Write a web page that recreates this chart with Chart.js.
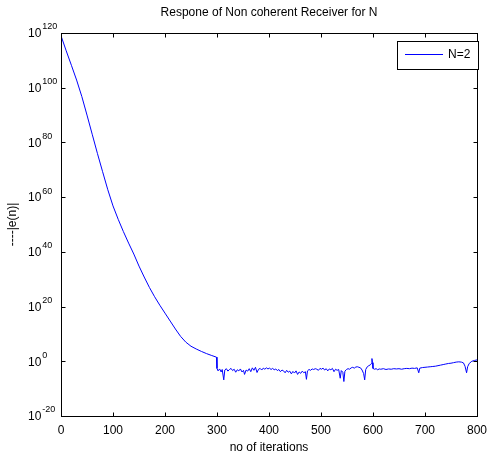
<!DOCTYPE html>
<html>
<head>
<meta charset="utf-8">
<script src="https://cdn.jsdelivr.net/npm/chart.js@4"></script>
<style>
  body { margin: 0; background: #fff; }
  canvas { display: block; }
</style>
</head>
<body>
<canvas id="errChart" width="494" height="456"></canvas>
<script>
// decay phase (iteration, log10 |e(n)|)
const decayIter = [0, 10, 20, 30, 40, 50, 60, 70, 80, 90,
  100, 110, 120, 130, 140, 150, 160, 170, 180, 190,
  200, 210, 220, 230, 240, 250, 260, 270, 280, 290, 299];
const decayLog = [119, 113.5, 108.2, 102.8, 96.8, 90, 83, 76, 69.3, 62.7,
  56.8, 51.9, 47.4, 43.2, 39.2, 34.8, 30.8, 27, 23.6, 20.5,
  17.6, 14.7, 11.8, 9.1, 7.0, 5.5, 4.5, 3.6, 2.8, 2.1, 1.5];

// noise floor after iteration 300
const floorIter = [
  300, 302, 305, 308, 310, 313, 315, 318, 321, 324,
  327, 330, 333, 336, 339, 342, 345, 348, 351, 353,
  356, 359, 362, 365, 368, 371, 374, 377, 380, 383,
  386, 389, 392, 395, 398, 401, 404, 407, 410, 413,
  416, 419, 422, 425, 428, 431, 434, 437, 440, 443,
  446, 449, 452, 455, 458, 461, 464, 467, 470, 472,
  474, 477, 480, 483, 486, 489, 492, 495, 498, 501,
  504, 507, 510, 513, 516, 519, 522, 525, 528, 531,
  534, 537, 539, 542, 544, 546, 549, 552, 555, 558,
  561, 564, 567, 570, 573, 576, 579, 582, 584, 586,
  589, 592, 595, 597, 598, 599, 600, 603, 606, 609,
  612, 615, 620, 625, 630, 635, 640, 645, 650, 655,
  660, 665, 670, 675, 680, 685, 688, 690, 695, 700,
  705, 710, 715, 720, 725, 730, 735, 740, 745, 750,
  755, 760, 765, 770, 774, 777, 780, 782, 785, 790,
  795, 800];
const floorLog = [
  -2.6, -3.5, -2.8, -3.9, -3.0, -6.8, -3.2, -2.7, -3.6, -3.0,
  -2.6, -3.4, -2.9, -4.0, -3.1, -3.5, -2.8, -3.9, -3.3, -4.8,
  -3.2, -3.6, -2.7, -3.8, -2.4, -3.3, -2.2, -4.1, -2.9, -2.6,
  -3.2, -2.5, -2.9, -2.4, -2.8, -2.5, -3.0, -2.6, -3.1, -2.8,
  -3.4, -3.0, -3.8, -3.2, -3.5, -4.2, -3.3, -4.0, -3.6, -4.6,
  -3.7, -4.3, -3.5, -4.8, -3.9, -4.4, -3.6, -4.2, -3.8, -6.6,
  -3.5, -3.0, -3.3, -2.8, -3.0, -2.7, -2.9, -3.3, -2.6, -2.9,
  -2.5, -3.2, -2.7, -3.5, -2.8, -3.1, -2.6, -3.8, -2.9, -3.3,
  -3.0, -6.2, -3.4, -4.0, -7.4, -3.6, -3.0, -2.7, -2.9, -2.4,
  -2.2, -2.5, -2.1, -2.0, -2.2, -2.4, -3.2, -4.5, -6.8, -3.0,
  -2.0, -1.6, -1.3, -0.8, 1.0, -0.5, -2.6, -2.9, -2.7, -3.1,
  -2.8, -2.9, -2.7, -3.0, -2.8, -2.9, -2.7, -2.8, -2.7, -2.9,
  -2.7, -2.6, -2.7, -2.5, -2.6, -2.4, -4.2, -2.5, -2.3, -2.2,
  -2.1, -2.0, -1.9, -1.8, -1.6, -1.4, -1.2, -1.0, -0.8, -0.7,
  -0.5, -0.3, -0.2, -0.3, -0.6, -1.8, -4.2, -2.0, -0.8, 0.0,
  0.3, 0.5];

const xTicks = [0, 100, 200, 300, 400, 500, 600, 700, 800];
const yTickExps = [-20, 0, 20, 40, 60, 80, 100, 120];

const FONT = "Arial, 'Liberation Sans', sans-serif";

const iterAll = decayIter.concat(floorIter);
const logAll = decayLog.concat(floorLog);
const points = iterAll.map((n, i) => ({ x: n, y: Math.pow(10, logAll[i]) }));

// MATLAB style box, inward ticks, 10^k labels, title and legend
const matlabAxes = {
  id: "matlabAxes",
  afterDraw(chart) {
    const { ctx, chartArea: a, scales } = chart;
    const xs = scales.x, ys = scales.y;
    const L = Math.round(a.left) + 0.5, R = Math.round(a.right) + 0.5;
    const T = Math.round(a.top) + 0.5, B = Math.round(a.bottom) + 0.5;
    ctx.save();
    ctx.strokeStyle = "#000";
    ctx.lineWidth = 1;
    ctx.strokeRect(L, T, R - L, B - T);

    ctx.beginPath();
    xTicks.forEach((v) => {
      const px = Math.round(xs.getPixelForValue(v)) + 0.5;
      ctx.moveTo(px, B); ctx.lineTo(px, B - 4);
      ctx.moveTo(px, T); ctx.lineTo(px, T + 4);
    });
    yTickExps.forEach((e) => {
      const py = Math.round(ys.getPixelForValue(Math.pow(10, e))) + 0.5;
      ctx.moveTo(L, py); ctx.lineTo(L + 4, py);
      ctx.moveTo(R, py); ctx.lineTo(R - 4, py);
    });
    ctx.stroke();

    // y tick labels: 10 with raised exponent
    ctx.fillStyle = "#000";
    ctx.textBaseline = "middle";
    ctx.textAlign = "left";
    yTickExps.forEach((e) => {
      const py = ys.getPixelForValue(Math.pow(10, e));
      ctx.font = "12px " + FONT;
      ctx.fillText("10", 28, py + 1);
      const w = ctx.measureText("10").width;
      ctx.font = "9px " + FONT;
      ctx.fillText(String(e), 28 + w + 1, py - 6);
    });

    // title
    ctx.font = "12px " + FONT;
    ctx.textAlign = "center";
    ctx.fillText("Respone of Non coherent Receiver for N", (a.left + a.right) / 2, 13);

    // legend
    const lx = 397.5, ly = 41.5, lw = 81, lh = 28;
    ctx.fillStyle = "#fff";
    ctx.fillRect(lx, ly, lw, lh);
    ctx.strokeStyle = "#000";
    ctx.strokeRect(lx, ly, lw, lh);
    ctx.strokeStyle = "#0000ff";
    ctx.beginPath();
    ctx.moveTo(405, 54.5); ctx.lineTo(443, 54.5);
    ctx.stroke();
    ctx.fillStyle = "#000";
    ctx.textAlign = "left";
    ctx.fillText(chart.data.datasets[0].label, 448, 55);
    ctx.restore();
  },
};

new Chart(document.getElementById("errChart").getContext("2d"), {
  type: "line",
  data: {
    datasets: [
      {
        label: "N=2",
        data: points,
        borderColor: "#0000ff",
        borderWidth: 1,
        pointRadius: 0,
        tension: 0,
        fill: false,
      },
    ],
  },
  options: {
    responsive: false,
    animation: false,
    devicePixelRatio: 1,
    layout: { padding: { top: 33, right: 12, left: 0, bottom: 0 } },
    plugins: {
      legend: { display: false },
      title: { display: false },
      tooltip: { enabled: false },
    },
    scales: {
      x: {
        type: "linear",
        min: 0,
        max: 800,
        grid: { display: false, drawTicks: false },
        border: { display: false },
        ticks: {
          stepSize: 100,
          padding: 7,
          color: "#000",
          font: { family: FONT, size: 12 },
          maxRotation: 0,
        },
        title: {
          display: true,
          text: "no of iterations",
          color: "#000",
          font: { family: FONT, size: 12 },
          padding: { top: 0, bottom: 1 },
        },
        afterFit: (s) => { s.height = 40; },
      },
      y: {
        type: "logarithmic",
        min: 1e-20,
        max: 1e120,
        grid: { display: false, drawTicks: false },
        border: { display: false },
        ticks: { display: false },
        title: {
          display: true,
          text: "----|e(n)|",
          color: "#000",
          font: { family: FONT, size: 12 },
          padding: { top: 5, bottom: 0 },
        },
        afterFit: (s) => { s.width = 61; },
      },
    },
  },
  plugins: [matlabAxes],
});
</script>
</body>
</html>
